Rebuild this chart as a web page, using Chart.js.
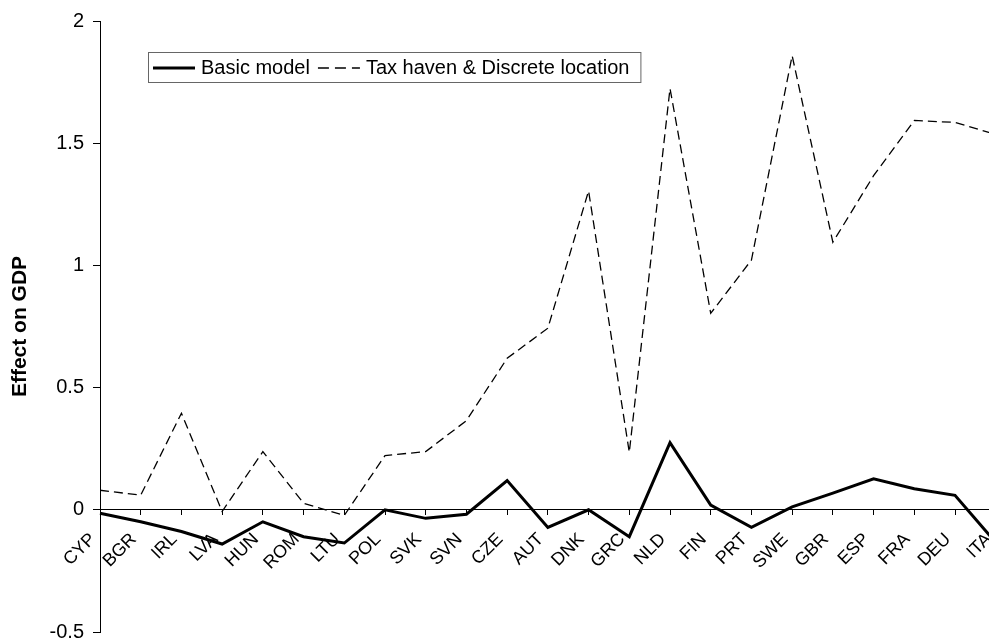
<!DOCTYPE html>
<html>
<head>
<meta charset="utf-8">
<script src="https://cdn.jsdelivr.net/npm/chart.js@4.4.1/dist/chart.umd.min.js"></script>
<style>
  html, body { margin: 0; padding: 0; background: #fff; overflow: hidden; }
  #wrap { width: 1025px; height: 653px; position: relative; }
</style>
</head>
<body>
<div id="wrap"><canvas id="myChart"></canvas></div>
<script>
// datos

const paises = ['CYP', 'BGR', 'IRL', 'LVA', 'HUN', 'ROM', 'LTU', 'POL', 'SVK', 'SVN', 'CZE', 'AUT',
    'DNK', 'GRC', 'NLD', 'FIN', 'PRT', 'SWE', 'GBR', 'ESP', 'FRA', 'DEU', 'ITA'];

const modeloBasico = [-0.014, -0.049, -0.089, -0.14, -0.049, -0.11, -0.136, 0.0, -0.035, -0.018, 0.12, -0.072,
    0.0, -0.11, 0.275, 0.019, -0.072, 0.012, 0.068, 0.127, 0.086, 0.059, -0.134];

const paraisoFiscal = [0.08, 0.06, 0.395, -0.007, 0.238, 0.027, -0.023, 0.222, 0.238, 0.365, 0.62, 0.743,
    1.305, 0.235, 1.724, 0.804, 1.022, 1.858, 1.095, 1.367, 1.593, 1.585, 1.536];

const ticksY = [-0.5, 0, 0.5, 1, 1.5, 2];

const fuente = '"Liberation Sans", Arial, sans-serif';

// leyenda con recuadro dentro del area del grafico
const leyendaCaja = {
    id: 'leyendaCaja',
    afterDraw(chart) {
        const { ctx, chartArea } = chart;
        const x0 = chartArea.left + 48;
        const y0 = chartArea.top + 31;
        const alto = 30;
        const largoLinea = 42;
        ctx.save();
        ctx.font = '20px ' + fuente;
        let ancho = 8;
        chart.data.datasets.forEach((ds) => {
            ancho += largoLinea + 6 + ctx.measureText(ds.label).width + 8;
        });
        ctx.fillStyle = '#fff';
        ctx.fillRect(x0, y0, ancho, alto);
        ctx.strokeStyle = '#666';
        ctx.lineWidth = 1;
        ctx.strokeRect(x0 + 0.5, y0 + 0.5, ancho, alto);

        let x = x0 + 5;
        const yc = y0 + alto / 2 + 1;
        chart.data.datasets.forEach((ds) => {
            ctx.beginPath();
            ctx.strokeStyle = ds.borderColor;
            ctx.lineWidth = ds.borderWidth;
            ctx.setLineDash(ds.borderDash ? [11, 6] : []);
            ctx.moveTo(x, yc);
            ctx.lineTo(x + largoLinea, yc);
            ctx.stroke();
            ctx.setLineDash([]);
            x += largoLinea + 6;
            ctx.fillStyle = '#000';
            ctx.textBaseline = 'middle';
            ctx.fillText(ds.label, x, yc);
            x += ctx.measureText(ds.label).width + 8;
        });
        ctx.restore();
    }
};

const ctx = document.getElementById('myChart').getContext('2d');

const config = {
    type: 'line',
    data: {
        labels: paises,
        datasets: [{
            label: 'Basic model',
            data: modeloBasico,
            borderColor: '#000',
            borderWidth: 3,
            pointRadius: 0,
            tension: 0
        }, {
            label: 'Tax haven & Discrete location',
            data: paraisoFiscal,
            borderColor: '#000',
            borderWidth: 1.3,
            borderDash: [9, 5],
            pointRadius: 0,
            tension: 0
        }]
    },
    options: {
        responsive: true,
        maintainAspectRatio: false,
        animation: false,
        layout: { padding: { top: 17, right: 0, bottom: 0, left: 0 } },
        plugins: {
            legend: { display: false },
            tooltip: { enabled: false }
        },
        scales: {
            x: {
                type: 'category',
                position: { y: 0 },
                offset: false,
                grid: { drawOnChartArea: false, drawTicks: true, tickLength: 5, color: '#000' },
                border: { display: true, color: '#000', width: 1 },
                ticks: {
                    autoSkip: false,
                    minRotation: 45,
                    maxRotation: 45,
                    padding: 14,
                    labelOffset: -7,
                    color: '#000',
                    font: { family: fuente, size: 18 }
                }
            },
            y: {
                min: -0.5,
                max: 2,
                afterFit: (s) => { s.width = 100; },
                afterBuildTicks: (s) => { s.ticks = ticksY.map(v => ({ value: v })); },
                grid: { drawOnChartArea: false, drawTicks: true, tickLength: 7, color: '#000' },
                border: { display: true, color: '#000', width: 1 },
                ticks: {
                    padding: 9,
                    color: '#000',
                    font: { family: fuente, size: 20 },
                    callback: (v) => String(v)
                },
                title: {
                    display: true,
                    text: 'Effect on GDP',
                    color: '#000',
                    padding: { top: 8, bottom: 0 },
                    font: { family: fuente, size: 21, weight: 'bold' }
                }
            }
        }
    },
    plugins: [leyendaCaja]
};

let myChart = new Chart(ctx, config);
</script>
</body>
</html>
